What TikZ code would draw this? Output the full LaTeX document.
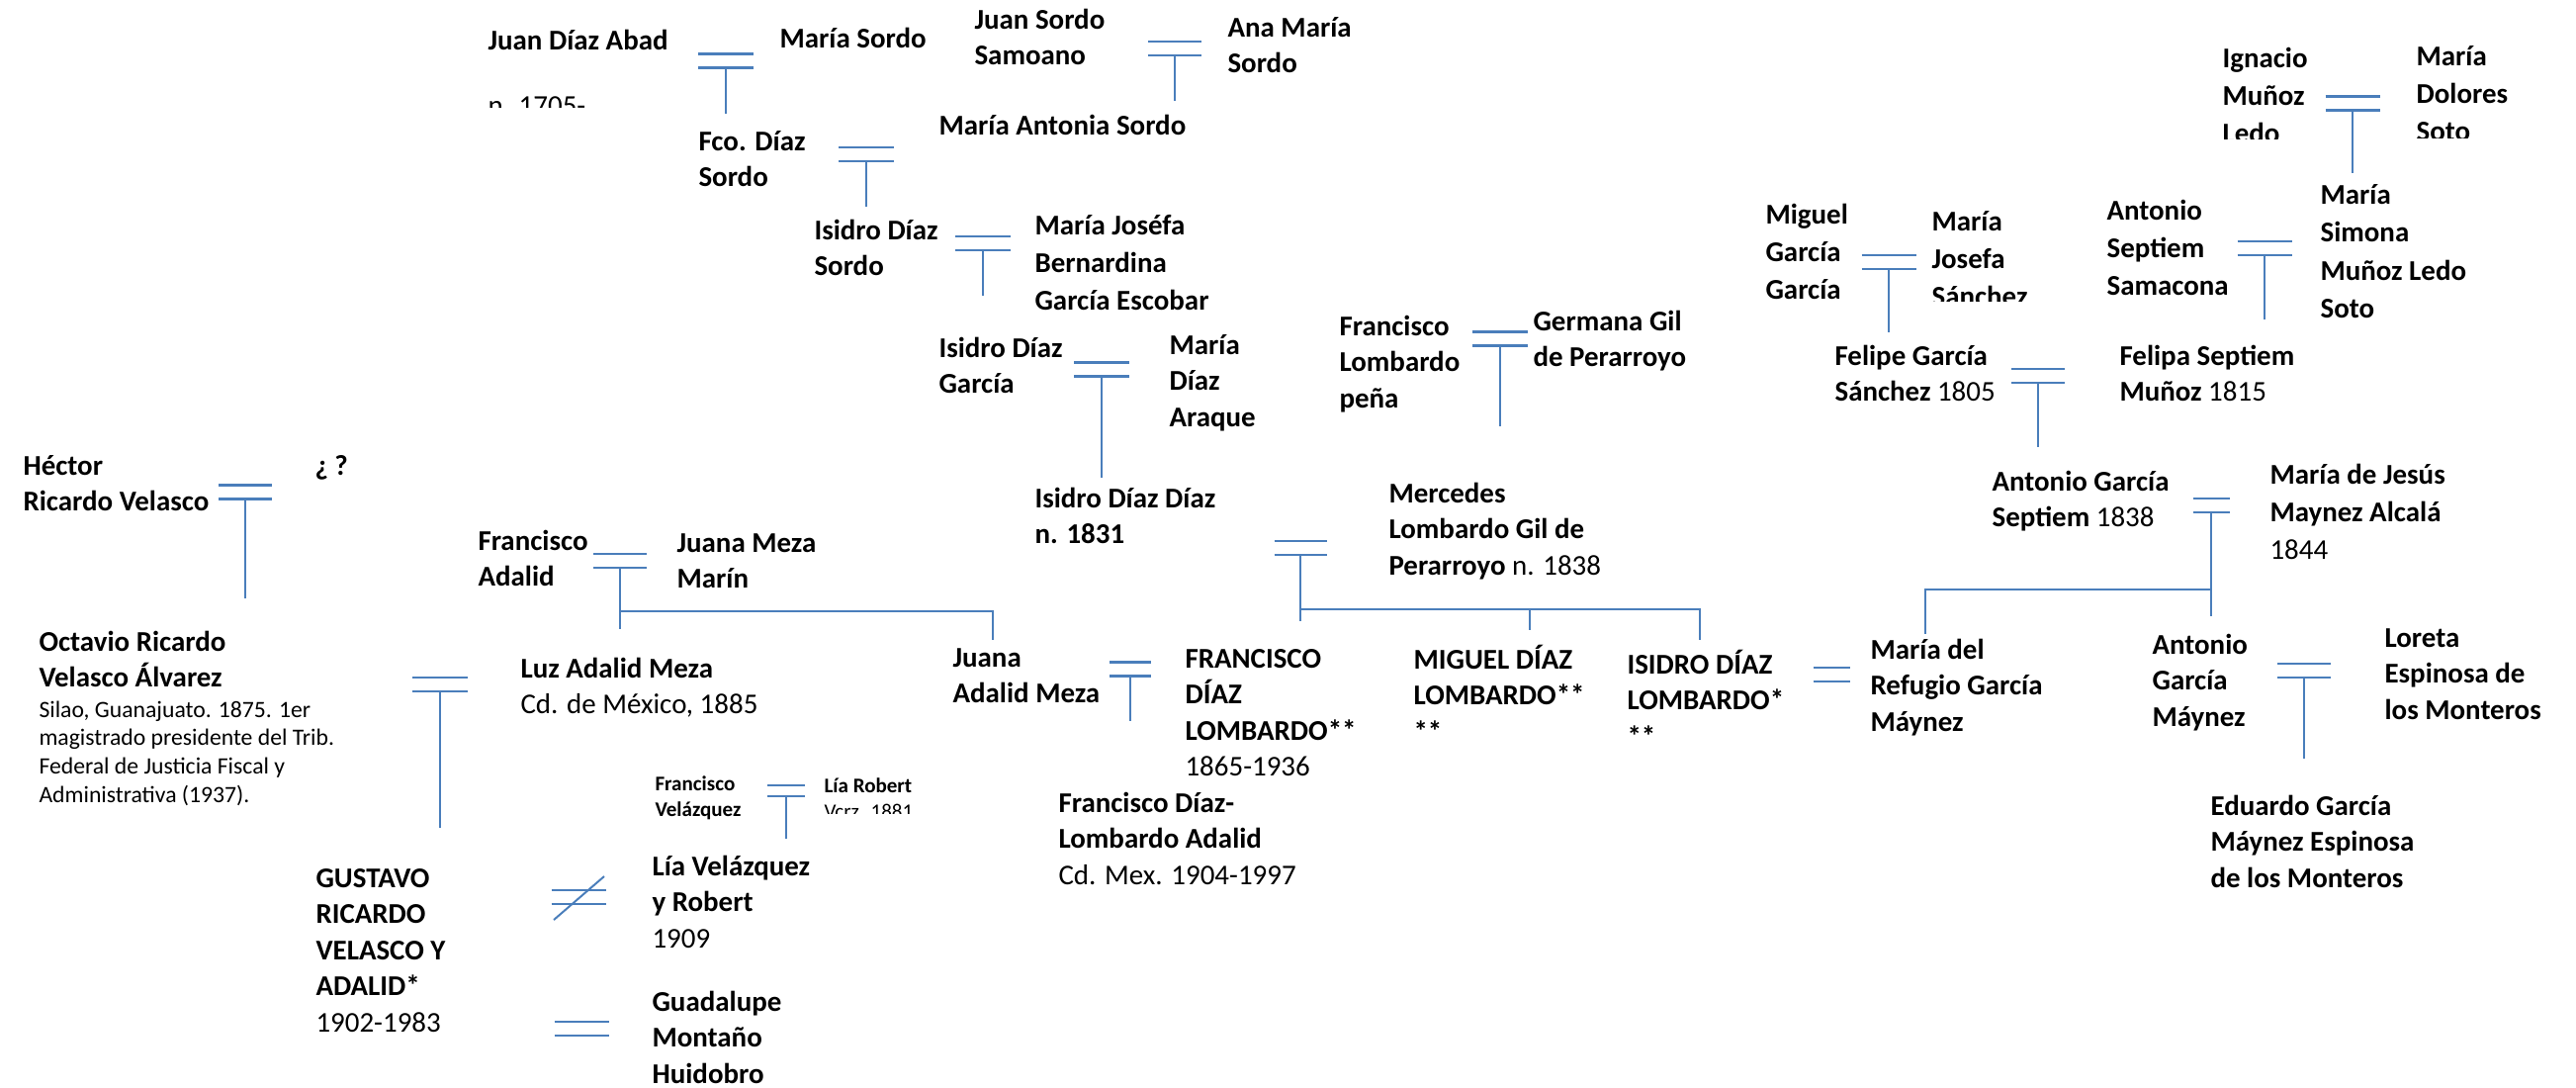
\documentclass[tikz,border=0pt]{standalone}
\usepackage{fontspec}
\setmainfont{Carlito}
\definecolor{lineblue}{HTML}{4A7EBB}
\newcommand{\rows}[2][1]{{\renewcommand{\arraystretch}{#1}\begin{tabular}[t]{@{}l@{}}#2\end{tabular}}}
\tikzset{
  pics/wed/.style={code={
    \draw[wedline] (-#1,-7) -- (#1,-7) (-#1,7) -- (#1,7);
    \coordinate (-b) at (0,7);
  }}
}
\begin{document}
\begin{tikzpicture}[x=0.38pt,y=-0.38pt,
  person/.style={anchor=base west,inner sep=0pt,font=\bfseries\fontsize{11}{13.9}\selectfont},
  reg/.style={person,font=\fontsize{11}{13.9}\selectfont},
  note/.style={person,font=\fontsize{9}{11}\selectfont},
  tiny/.style={person,font=\bfseries\fontsize{8}{9.9}\selectfont},
  wedline/.style={draw=lineblue,line width=0.8pt},
  desc/.style={draw=lineblue,line width=0.75pt},
  bar/.style={draw=lineblue,line width=0.9pt}]
\path[use as bounding box] (0,0) rectangle (2605,1099);

% Diaz
\node[person] (1a) at (493,50) {Juan Díaz Abad};
\begin{scope}
\clip (480,80) rectangle (650,108);
\node[reg] (1an) at (493,116) {n. 1705-};
\end{scope}
\node[person] (2a) at (788,48) {María Sordo};
\node[person] (3a) at (985,29) {\rows{Juan Sordo\\Samoano}};
\node[person] (4a) at (1241,37) {\rows{Ana María\\Sordo}};
\node[person] (5a) at (949,136) {María Antonia Sordo};
\node[person] (6a) at (706,152) {\rows{Fco. Díaz\\Sordo}};
\node[person] (7a) at (823,242) {\rows{Isidro Díaz\\Sordo}};
\node[person] (8a) at (1046,237) {\rows[1.05]{María Joséfa\\Bernardina\\García Escobar}};
\node[person] (9a) at (949,361) {\rows{Isidro Díaz\\García}};
\node[person] (10a) at (1182,358) {\rows{María\\Díaz\\Araque}};
\node[person] (11a) at (1046,513) {\rows{Isidro Díaz Díaz\\n. 1831}};

\pic (w1) at (734,61.5) {wed=28};
\pic (w2) at (1188,49) {wed=27};
\pic (w3) at (876,156) {wed=28};
\pic (w4) at (994,246) {wed=28};
\pic (w5) at (1114,373.5) {wed=28};
\draw[desc] (w1-b) -- ++(0,46);
\draw[desc] (w2-b) -- ++(0,46);
\draw[desc] (w3-b) -- ++(0,46);
\draw[desc] (w4-b) -- ++(0,46);
\draw[desc] (w5-b) -- ++(0,102);

% Velasco
\node[person] (1b) at (23,480) {\rows{Héctor\\Ricardo Velasco}};
\node[person] (2b) at (318,480) {¿ ?};
\node[person] (3b) at (39,658) {\rows{Octavio Ricardo\\Velasco Álvarez}};
\node[note] (3bn) at (39,725) {\rows{Silao, Guanajuato. 1875. 1er\\magistrado presidente del Trib.\\Federal de Justicia Fiscal y\\Administrativa (1937).}};
\node[person] (4b) at (319,897) {\rows{GUSTAVO\\RICARDO\\VELASCO Y\\ADALID*\\{\mdseries 1902-1983}}};

\pic (w6) at (248,497.5) {wed=27};
\pic (w8) at (445,692) {wed=28};
\draw[desc] (w6-b) -- ++(0,100);
\draw[desc] (w8-b) -- ++(0,138);

% Adalid
\node[person] (1c) at (483,556) {\rows{Francisco\\Adalid}};
\node[person] (2c) at (684,558) {\rows{Juana Meza\\Marín}};
\node[person] (3c) at (526,685) {\rows{Luz Adalid Meza\\{\mdseries Cd. de México, 1885}}};
\node[person] (4c) at (963,674) {\rows{Juana\\Adalid Meza}};
\node[tiny] (5c) at (662,799) {\rows{Francisco\\Velázquez}};
\begin{scope}
\clip (820,780) rectangle (960,822);
\node[tiny] (6c) at (833,801) {\rows{Lía Robert\\{\mdseries Vcrz. 1881}}};
\end{scope}
\node[person] (7c) at (659,885) {\rows{Lía Velázquez\\y Robert\\{\mdseries 1909}}};
\node[person] (8c) at (659,1022) {\rows{Guadalupe\\Montaño\\Huidobro}};

\pic (w7) at (627,567) {wed=27};
\pic[scale=0.8] (w10) at (795,799.5) {wed=24};
\pic (w11) at (585,907) {wed=27.5};
\pic (w12) at (588,1040) {wed=27.5};
\draw[desc] (w7-b) -- ++(0,62);
\draw[desc] (w10-b) -- ++(0,43);
\draw[desc] (560,930) -- (611,886);
\coordinate (k7) at (627,618);
\coordinate (k7b) at (1004,647);
\draw[bar] (k7) -| (k7b);

% Lombardo
\node[person] (1d) at (1198,675) {\rows{FRANCISCO\\DÍAZ\\LOMBARDO**\\{\mdseries 1865-1936}}};
\node[person] (2d) at (1070,821) {\rows{Francisco Díaz-\\Lombardo Adalid\\{\mdseries Cd. Mex. 1904-1997}}};
\node[person] (3d) at (1354,339) {\rows{Francisco\\Lombardo\\peña}};
\node[person] (4d) at (1550,334) {\rows{Germana Gil\\de Perarroyo}};
\node[person] (5d) at (1404,508) {\rows{Mercedes\\Lombardo Gil de\\Perarroyo {\mdseries n. 1838}}};
\node[person] (6d) at (1429,676) {\rows{MIGUEL DÍAZ\\LOMBARDO**\\{}**}};
\node[person] (7d) at (1645,681) {\rows{ISIDRO DÍAZ\\LOMBARDO*\\{}**}};

\pic (w9) at (1143,676.5) {wed=21};
\pic (w13) at (1517,342.5) {wed=28};
\pic (w14) at (1315,554) {wed=26.5};
\pic (w15) at (1852,682) {wed=18.5};
\draw[desc] (w9-b) -- ++(0,45);
\draw[desc] (w13-b) -- ++(0,81);
\draw[desc] (w14-b) -- ++(0,67);
\coordinate (k14) at (1315,616);
\coordinate (k14b) at (1719,647);
\draw[bar] (k14) -| (k14b);
\draw[desc] (1547,616) -- (1547,637);

% Garcia
\node[person] (1e) at (1785,226) {\rows[1.05]{Miguel\\García\\García}};
\begin{scope}
\clip (1940,190) rectangle (2100,304);
\node[person] (2e) at (1953,233) {\rows[1.05]{María\\Josefa\\Sánchez}};
\end{scope}
\node[person] (3e) at (2130,222) {\rows[1.05]{Antonio\\Septiem\\Samacona}};
\node[person] (4e) at (2346,206) {\rows[1.055]{María\\Simona\\Muñoz Ledo\\Soto}};
\begin{scope}
\clip (2230,30) rectangle (2340,140);
\node[person] (5e) at (2247,68) {\rows[1.05]{Ignacio\\Muñoz\\Ledo}};
\end{scope}
\begin{scope}
\clip (2430,30) rectangle (2605,139);
\node[person] (6e) at (2443,66) {\rows[1.05]{María\\Dolores\\Soto}};
\end{scope}
\node[person] (7e) at (1855,369) {\rows{Felipe García\\Sánchez {\mdseries 1805}}};
\node[person] (8e) at (2143,369) {\rows{Felipa Septiem\\Muñoz {\mdseries 1815}}};
\node[person] (9e) at (2014,496) {\rows{Antonio García\\Septiem {\mdseries 1838}}};
\node[person] (10e) at (2295,489) {\rows[1.05]{María de Jesús\\Maynez Alcalá\\{\mdseries 1844}}};
\node[person] (11e) at (1891,666) {\rows{María del\\Refugio García\\Máynez}};
\node[person] (12e) at (2176,661) {\rows{Antonio\\García\\Máynez}};
\node[person] (13e) at (2411,654) {\rows{Loreta\\Espinosa de\\los Monteros}};
\node[person] (14e) at (2235,824) {\rows{Eduardo García\\Máynez Espinosa\\de los Monteros}};

\pic (w16) at (2236,511) {wed=18.5};
\pic (w17) at (2330,678) {wed=27};
\pic (w18) at (2379,104.5) {wed=27.5};
\pic (w19) at (1910,265) {wed=27.5};
\pic (w20) at (2290,251) {wed=27.5};
\pic (w21) at (2061,380) {wed=27};
\draw[desc] (w16-b) -- ++(0,105);
\draw[desc] (w17-b) -- ++(0,82);
\draw[desc] (w18-b) -- ++(0,63);
\draw[desc] (w19-b) -- ++(0,64);
\draw[desc] (w20-b) -- ++(0,65);
\draw[desc] (w21-b) -- ++(0,65);
\coordinate (k16) at (2236,596);
\coordinate (k16b) at (1947,641);
\draw[bar] (k16) -| (k16b);
\end{tikzpicture}
\end{document}
